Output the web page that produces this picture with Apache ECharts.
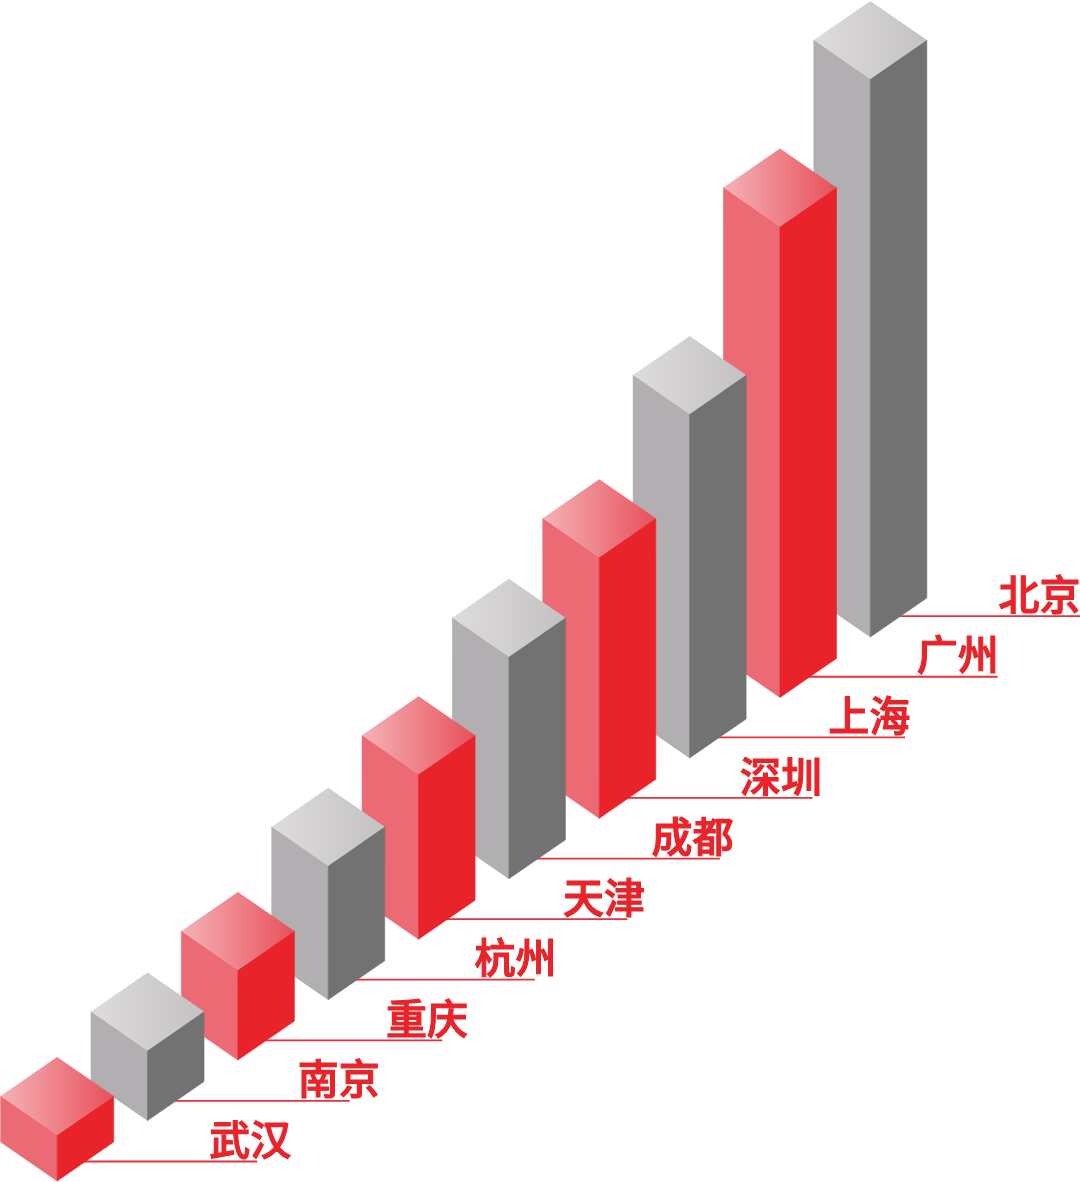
<!DOCTYPE html>
<html>
<head>
<meta charset="utf-8">
<style>html,body{margin:0;padding:0;background:#fff}#c{width:1080px;height:1182px}</style>
<script src="https://cdn.jsdelivr.net/npm/echarts@6/dist/echarts.min.js"></script>
</head>
<body>
<div id="c"></div>
<script>
const cities = ['武汉','南京','重庆','杭州','天津','成都','深圳','上海','广州','北京'];
const heights = [46,70,90,134,165,222,261,344,471,558];

const palettes = [
  {left:'#eb6a73', right:'#e8232a', topA:'#f4b3b7', topB:'#e8505a'},
  {left:'#b1afb2', right:'#727272', topA:'#dedcdd', topB:'#c3c1c2'}
];
const chart = echarts.init(document.getElementById('c'), null, {renderer:'canvas'});

function renderItem(params, api){
  const i = api.value(0), v = api.value(1);
  const band = api.size([1,0])[0];
  const base = api.coord([i,0]);
  const rise = band*0.669*i;
  const halfW = 56.5, halfD = 39;
  const x = base[0], by = base[1]-rise;
  const ty = api.coord([i,v])[1]-rise;
  const p = palettes[i%2];
  const z = 100-i;
  const poly = (pts,fill)=>({type:'polygon',z2:z,shape:{points:pts},
    style:{fill,stroke:typeof fill==='string'?fill:'#00000000',lineWidth:0.6}});
  const lineY = by-19.5-i*0.15;
  const lineEnd = Math.min(x+200+i*2.2,1080);
  const labelCx = Math.min(x+193-i*1.9,1039.5);
  return {type:'group',children:[
    {type:'line',z2:1,shape:{x1:x+15,y1:lineY,x2:lineEnd,y2:lineY},
      style:{stroke:'#e8303a',lineWidth:1.8}},
    poly([[x-halfW,ty-halfD],[x,ty],[x,by],[x-halfW,by-halfD]],p.left),
    poly([[x+halfW,ty-halfD],[x,ty],[x,by],[x+halfW,by-halfD]],p.right),
    poly([[x,ty],[x-halfW,ty-halfD],[x,ty-2*halfD],[x+halfW,ty-halfD]],
      new echarts.graphic.LinearGradient(0,0,1,0,[{offset:0,color:p.topA},{offset:1,color:p.topB}])),
    {type:'text',z2:200,style:{text:cities[i],x:labelCx,y:lineY-22,align:'center',verticalAlign:'middle',
      fill:'#e8232a',stroke:'#e8232a',lineWidth:1.1,font:'500 41px "Noto Sans CJK SC"'}}
  ]};
}

chart.setOption({
  animation:false,
  backgroundColor:'#fff',
  grid:{left:12,width:903.5,top:0,height:1181},
  xAxis:{type:'category',data:cities,show:false},
  yAxis:{type:'value',min:0,max:1181,show:false},
  series:[{type:'custom',silent:true,clip:false,renderItem,
    encode:{x:0,y:1},
    data:heights.map((h,i)=>[i,h])}]
});
</script>
</body>
</html>
